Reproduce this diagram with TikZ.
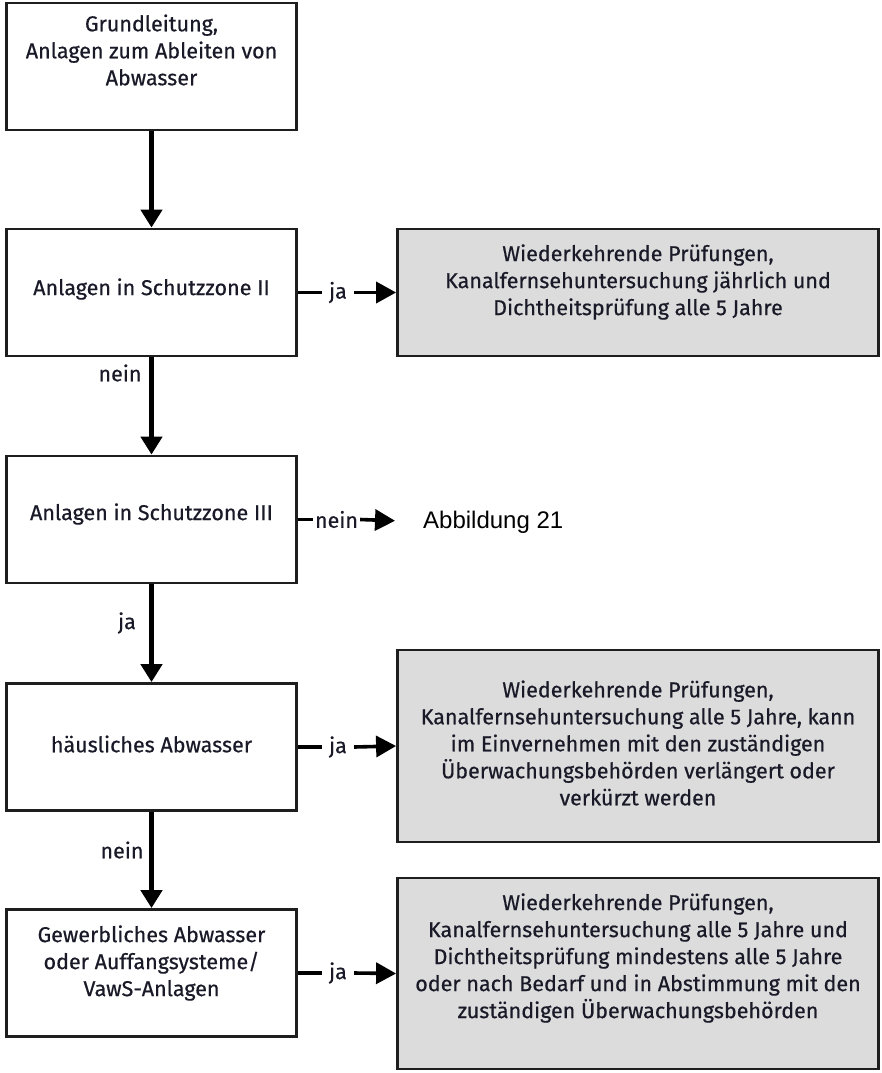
\documentclass[tikz,border=0pt]{standalone}
\usepackage{fontspec}
\setmainfont{Fira Sans}[FakeBold=0.5]
\newfontfamily\arialfont{Liberation Sans}
\usetikzlibrary{arrows.meta}
\definecolor{boxgray}{RGB}{220,220,220}
\definecolor{edge}{RGB}{30,30,30}
\definecolor{ink}{RGB}{25,25,40}
\begin{document}
\begin{tikzpicture}[x=1pt,y=-1pt,
  leftbox/.style={draw=edge, line width=2.8pt, fill=white, minimum width=290pt, minimum height=127pt, inner sep=0pt},
  rightbox/.style={draw=edge, line width=2.8pt, fill=boxgray, minimum width=481pt, inner sep=0pt},
  txt/.style={align=center, inner sep=0pt, text=ink, font=\fontsize{21.5}{27}\selectfont},
  lbl/.style={inner sep=0pt, text=ink, font=\fontsize{21.5}{24}\selectfont},
  varr/.style={line width=4.5pt, -{Triangle[length=18pt,width=21pt]}},
  harr/.style={line width=3.6pt, -{Triangle[length=20pt,width=21pt]}},
  hline/.style={line width=3.6pt}]
\useasboundingbox (0,0) rectangle (882,1073);

% left column
\node[leftbox] (b1) at (151.5,66.5) {};
\node[leftbox] (b2) at (151.5,292.5) {};
\node[leftbox] (b3) at (151.5,519.5) {};
\node[leftbox] (b4) at (151.5,747) {};
\node[leftbox] (b5) at (151.5,973) {};

\node[txt] (t1) at (151.5,50) {Grundleitung,\\Anlagen zum Ableiten von\\Abwasser};
\node[txt] (t2) at (151.5,289) {Anlagen in Schutzzone II};
\node[txt] (t3) at (151.5,514) {Anlagen in Schutzzone III};
\node[txt] (t4) at (151.5,744) {häusliches Abwasser};
\node[txt] (t5) at (151.5,963) {Gewerbliches Abwasser\\oder Auffangsysteme/\\VawS-Anlagen};

% right column
\node[rightbox, minimum height=127pt] (r1) at (638,292.5) {};
\node[rightbox, minimum height=192pt] (r2) at (638,746) {};
\node[rightbox, minimum height=191pt] (r3) at (638,973.5) {};

\node[txt] (s1) at (638,282) {Wiederkehrende Prüfungen,\\Kanalfernsehuntersuchung jährlich und\\Dichtheitsprüfung alle 5 Jahre};
\node[txt] (s2) at (638,743) {Wiederkehrende Prüfungen,\\Kanalfernsehuntersuchung alle 5 Jahre, kann\\im Einvernehmen mit den zuständigen\\Überwachungsbehörden verlängert oder\\verkürzt werden};
\node[txt] (s3) at (638,958) {Wiederkehrende Prüfungen,\\Kanalfernsehuntersuchung alle 5 Jahre und\\Dichtheitsprüfung mindestens alle 5 Jahre\\oder nach Bedarf und in Abstimmung mit den\\zuständigen Überwachungsbehörden};

\node[anchor=base west, inner sep=0pt, font=\arialfont\fontsize{24}{28}\selectfont] (abb) at (423,528) {Abbildung 21};

% vertical arrows
\draw[varr] (b1) -- (b2);
\draw[varr] (b2) -- (b3);
\draw[varr] (b3) -- (b4);
\draw[varr] (b4) -- (b5);

\node[lbl] (n2) at (120,373) {nein};
\node[lbl] (j3) at (127,623) {ja};
\node[lbl] (n4) at (122,850) {nein};

% horizontal branches
\node[lbl, inner xsep=7pt] (j2) at (338,292.5) {ja};
\draw[hline] (b2.east) -- (j2.west);
\draw[harr] (j2.east) -- (r1.west);

\node[lbl, inner xsep=2pt] (n3) at (336.5,519.5) {nein};
\draw[hline] (b3.east) -- (n3.west);
\draw[harr, shorten >=28pt] (n3.east) -- (abb.west);

\node[lbl, inner xsep=7pt] (j4) at (338,747) {ja};
\draw[hline] (b4.east) -- (j4.west);
\draw[harr] (j4.east) -- (r2.west);

\node[lbl, inner xsep=7pt] (j5) at (338,973) {ja};
\draw[hline] (b5.east) -- (j5.west);
\draw[harr] (j5.east) -- (r3.west);
\end{tikzpicture}
\end{document}
